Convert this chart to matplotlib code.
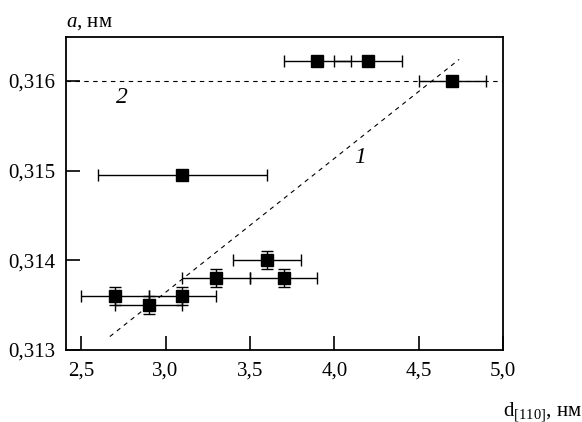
import matplotlib.pyplot as plt
from matplotlib.ticker import FuncFormatter

plt.rcParams['font.family'] = ['Liberation Serif', 'DejaVu Serif']
plt.rcParams['mathtext.fontset'] = 'custom'
plt.rcParams['mathtext.rm'] = 'Liberation Serif'
plt.rcParams['mathtext.it'] = 'Liberation Serif:italic'

# -------------------------------
# Data
# -------------------------------
d_110 = [2.7, 2.9, 3.1, 3.3, 3.6, 3.7, 3.1, 3.9, 4.2, 4.7]
a_nm = [0.3136, 0.3135, 0.3136, 0.3138, 0.3140, 0.3138, 0.31495, 0.31622, 0.31622, 0.3160]
d_err = [0.2, 0.2, 0.2, 0.2, 0.2, 0.2, 0.5, 0.2, 0.2, 0.2]
a_err = [0.0001, 0.0001, 0.0001, 0.0001, 0.0001, 0.0001, 0.0, 0.0, 0.0, 0.0]

line1_x = [2.67, 4.74]
line1_y = [0.31315, 0.31624]
line2_y = 0.316

x_ticks = [2.5, 3.0, 3.5, 4.0, 4.5, 5.0]
y_ticks = [0.313, 0.314, 0.315, 0.316]

fig = plt.figure(figsize=(5.82, 4.22), dpi=100)
ax = fig.add_axes([66 / 582, 1 - 350 / 422, (503 - 66) / 582, (350 - 37) / 422])

ax.plot(line1_x, line1_y, color="black", linestyle=(0, (4, 4)), linewidth=0.8)
ax.axhline(line2_y, color="black", linestyle=(0, (4, 4)), linewidth=0.8)

ax.errorbar(d_110, a_nm, xerr=d_err, yerr=a_err, fmt="s", color="black",
            markersize=8.5, elinewidth=1.0, capsize=4, capthick=1.0, zorder=3)

ax.text(4.155, 0.31515, "1", fontsize=17, style="italic", ha="center", va="center")
ax.text(2.743, 0.31581, "2", fontsize=17, style="italic", ha="center", va="center")

ax.set_xlim(2.41, 5.0)
ax.set_ylim(0.31303, 0.31649)
ax.set_xticks(x_ticks)
ax.set_yticks(y_ticks)

ax.xaxis.set_major_formatter(FuncFormatter(lambda v, p: f"{v:.1f}".replace(".", ",")))
ax.yaxis.set_major_formatter(FuncFormatter(lambda v, p: f"{v:.3f}".replace(".", ",")))

ax.tick_params(direction="in", length=10, width=1.2, labelsize=15)
ax.tick_params(axis="x", pad=8)
ax.tick_params(axis="y", pad=8)
ax.tick_params(top=False, right=False)
for s in ax.spines.values():
    s.set_linewidth(1.3)

fig.text(66 / 582, 1 - 22 / 422, r"$\mathit{a}$, нм", fontsize=15, ha="left", va="center")
fig.text(503 / 582, 1 - 416 / 422, r"d$_{[110]}$, нм", fontsize=15, ha="left", va="baseline")

plt.savefig("out.png", dpi=100)
